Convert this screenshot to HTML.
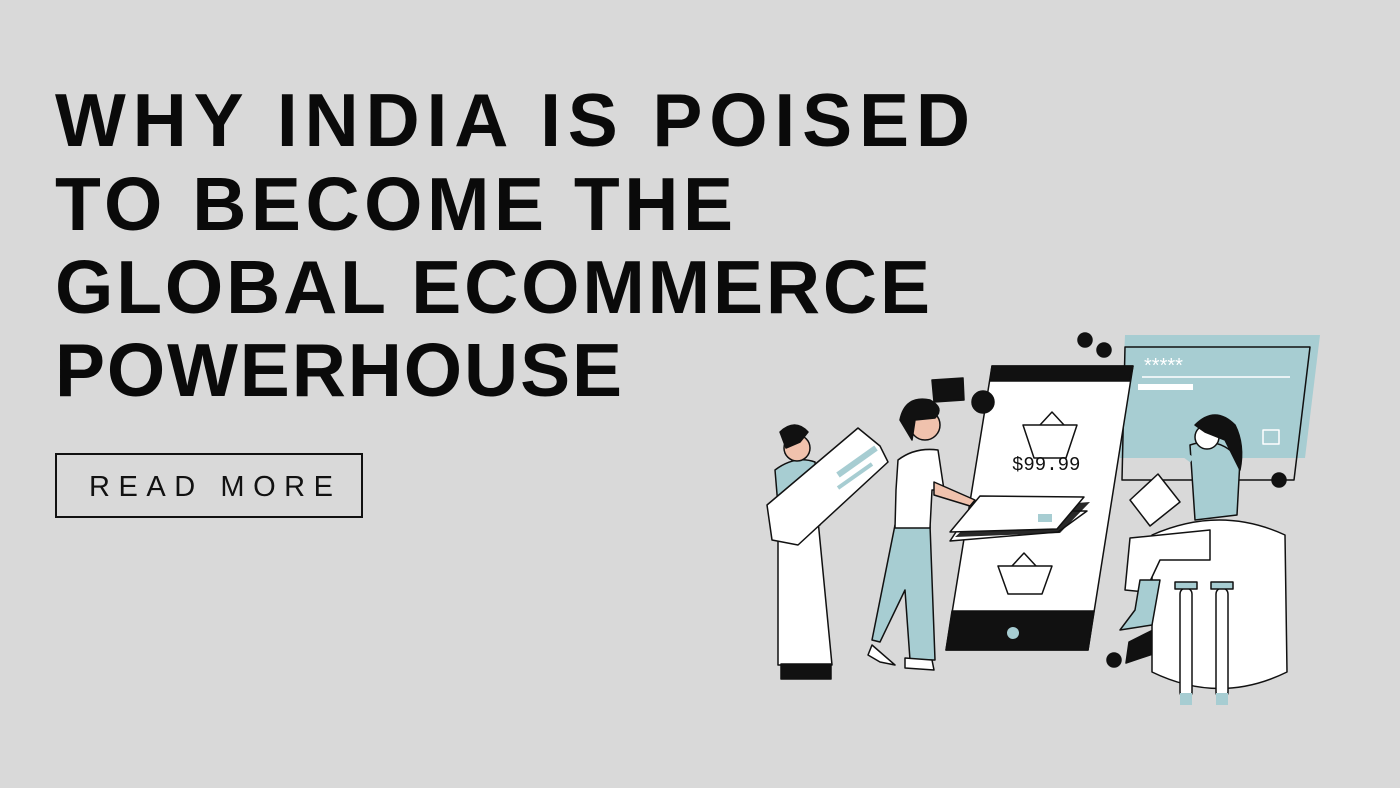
<!DOCTYPE html>
<html><head><meta charset="utf-8"><style>
html,body{margin:0;padding:0;background:#d9d9d9;}
svg{display:block}
</style></head><body>
<svg width="1400" height="788" viewBox="0 0 1400 788" xmlns="http://www.w3.org/2000/svg">
<rect width="1400" height="788" fill="#d9d9d9"/>
<g font-family="'Liberation Sans', sans-serif" font-weight="bold" font-size="75" fill="#0a0a0a">
<text x="55" y="146" textLength="915" lengthAdjust="spacing">WHY INDIA IS POISED</text>
<text x="55" y="230" textLength="678" lengthAdjust="spacing">TO BECOME THE</text>
<text x="55" y="313" textLength="875" lengthAdjust="spacing">GLOBAL ECOMMERCE</text>
<text x="55" y="396" textLength="567" lengthAdjust="spacing">POWERHOUSE</text>
</g>
<g>
<rect x="56" y="454" width="306" height="63" fill="none" stroke="#111" stroke-width="2"/>
<text x="89" y="496" textLength="244" lengthAdjust="spacing" font-family="'Liberation Sans', sans-serif" font-size="29" fill="#111">READ MORE</text>
</g>
<g stroke="#111" stroke-width="1.5" stroke-linejoin="round">
<polygon points="1125,335 1320,335 1305,458 1120,458" fill="#a7cdd2" stroke="none"/>
<polygon points="1125,347 1310,347 1294,480 1122,480" fill="none"/>
<text x="1144" y="372" font-family="'Liberation Sans', sans-serif" font-size="20" fill="#fff" stroke="none">*****</text>
<line x1="1142" y1="377" x2="1290" y2="377" stroke="#fff"/>
<rect x="1138" y="384" width="55" height="6" fill="#fff" stroke="none"/>
<rect x="1263" y="430" width="16" height="14" fill="none" stroke="#fff"/>
<polygon points="992,366 1133,366 1088,650 946,650" fill="#fff"/>
<polygon points="992,366 1133,366 1130,381 990,381" fill="#111"/>
<polygon points="952,611 1094,611 1088,650 946,650" fill="#111"/>
<circle cx="1013" cy="633" r="6" fill="#a7cdd2" stroke="none"/>
<path d="M1023,425 L1077,425 L1066,458 L1034,458 Z" fill="none"/>
<path d="M1040,425 L1052,412 L1064,425" fill="none"/>
<text x="1012" y="470" font-family="'Liberation Mono', monospace" font-size="19" fill="#111" stroke="none">$99.99</text>
<path d="M998,566 L1052,566 L1042,594 L1008,594 Z" fill="none"/>
<path d="M1012,566 L1024,553 L1036,566" fill="none"/>
<polygon points="970,511 1087,511 1058,532 950,541" fill="#fff"/>
<polygon points="1090,502 1060,533 955,537 985,510" fill="#111" stroke="none" opacity="0.9"/>
<polygon points="980,496 1084,497 1057,529 950,532" fill="#fff"/>
<rect x="1038" y="514" width="14" height="8" fill="#a7cdd2" stroke="none"/>
<circle cx="1085" cy="340" r="7" fill="#111"/><circle cx="1104" cy="350" r="7" fill="#111"/>
<circle cx="983" cy="402" r="11" fill="#111"/><circle cx="1279" cy="480" r="7" fill="#111"/>
<circle cx="1114" cy="660" r="7" fill="#111"/>
<polygon points="932,380 963,378 964,400 934,402" fill="#111"/>
<polygon points="1126,663 1165,650 1157,628 1129,642" fill="#111"/>
<polygon points="778,520 818,520 832,665 778,665" fill="#fff"/>
<rect x="781" y="664" width="50" height="15" fill="#111"/>
<path d="M775,470 Q795,455 815,462 L820,525 L780,530 Z" fill="#a7cdd2"/>
<circle cx="797" cy="448" r="13" fill="#f0c2ad"/>
<path d="M780,432 Q795,418 808,432 L800,442 L786,448 Z" fill="#111"/>
<polygon points="767,505 858,428 880,446 888,462 798,545 772,540" fill="#fff"/>
<line x1="838" y1="475" x2="876" y2="448" stroke="#a7cdd2" stroke-width="6"/>
<line x1="838" y1="488" x2="872" y2="464" stroke="#a7cdd2" stroke-width="4"/>
<path d="M895,525 L930,525 L935,660 L910,660 L905,590 L880,642 L872,640 Z" fill="#a7cdd2"/>
<path d="M898,460 Q915,447 938,450 L944,490 L932,490 L930,528 L895,528 L896,490 Z" fill="#fff"/>
<path d="M934,482 L975,500 L970,506 L934,495 Z" fill="#f0c2ad"/>
<circle cx="925" cy="425" r="15" fill="#f0c2ad"/>
<path d="M900,420 Q905,395 930,400 Q945,408 935,418 L915,420 L912,440 Z" fill="#111"/>
<path d="M872,645 L895,665 L880,662 L868,655 Z" fill="#fff"/>
<path d="M905,658 L932,660 L934,670 L905,668 Z" fill="#fff"/>
<path d="M1152,535 Q1220,505 1285,535 L1287,672 Q1220,705 1152,672 Z" fill="#fff"/>
<path d="M1130,538 L1210,530 L1210,560 L1160,560 L1145,592 L1125,590 Z" fill="#fff"/>
<path d="M1140,580 L1160,580 L1152,625 L1120,630 L1135,610 Z" fill="#a7cdd2"/>
<path d="M1190,445 Q1220,435 1240,460 L1237,515 L1195,520 Z" fill="#a7cdd2"/>
<path d="M1130,500 L1158,474 L1180,502 L1150,526 Z" fill="#fff"/>
<line x1="1165" y1="440" x2="1192" y2="460" stroke="#a7cdd2" stroke-width="6"/>
<circle cx="1207" cy="437" r="12" fill="#fff"/>
<path d="M1195,425 Q1215,405 1235,425 Q1245,445 1240,470 L1225,440 L1205,432 Z" fill="#111"/>
<rect x="1180" y="588" width="12" height="110" rx="6" fill="#fff"/>
<rect x="1216" y="588" width="12" height="110" rx="6" fill="#fff"/>
<rect x="1175" y="582" width="22" height="7" fill="#a7cdd2"/>
<rect x="1211" y="582" width="22" height="7" fill="#a7cdd2"/>
<rect x="1180" y="693" width="12" height="12" fill="#a7cdd2" stroke="none"/>
<rect x="1216" y="693" width="12" height="12" fill="#a7cdd2" stroke="none"/>
</g>
</svg>
</body></html>
